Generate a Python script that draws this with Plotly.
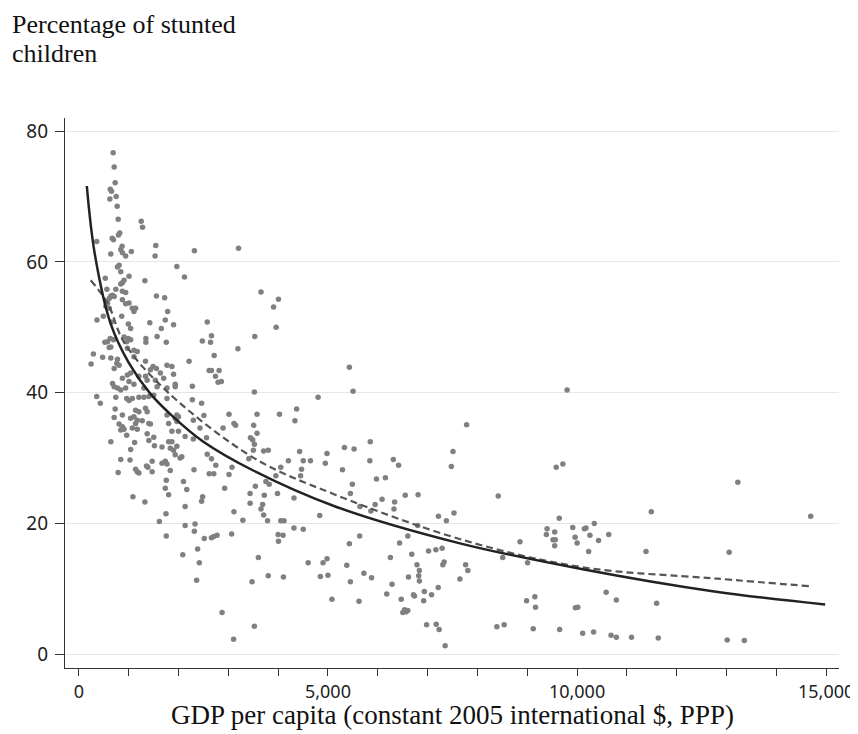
import plotly.graph_objects as go

# Scatter data: GDP per capita (constant 2005 intl $, PPP) and % stunted children
gdp = [689, 709, 729, 630, 656, 749, 622, 769, 789, 1252, 1278, 821, 795, 670, 695, 358, 1544, 868, 841,
       642, 1053, 874,
       940, 1530, 808, 775, 841, 1007, 1325, 530, 907, 874, 841, 563, 742, 874, 940, 642, 676, 609, 709,
       1557, 1722, 576, 543, 609, 874, 940, 1007, 1073, 1139, 1106, 1782, 491, 364, 861, 662, 1424, 1735,
       993, 1040, 1655, 629, 695, 576, 907, 993, 960, 1040, 1345, 1345, 1570, 1755, 523, 609, 642,
       974, 1106, 1172, 292, 477, 642, 775, 245, 762, 808, 709, 1106, 1338, 1490, 1557, 1437, 1769,
       974, 1040, 874, 1007, 1106, 676, 709, 775, 1205, 1338, 1371, 1536, 1636, 1702, 1570, 1769, 841, 940, 1305,
       358, 431, 742, 960, 1007, 1073, 1205, 1305, 1405, 1504, 1769, 729, 1139, 1205, 1338, 1371,
       709, 874, 1040, 1106, 1172, 1272, 1139, 808, 874, 841, 907, 1405, 1437, 1073, 1172, 1769, 1802,
       960, 1371, 1504, 1405, 1517, 1669, 1802, 1835, 642, 1119, 1040, 841, 1027, 1471, 1669, 1735, 1769, 1835,
       1139, 1205, 1172, 1358, 1385, 1471, 789, 1755, 1735, 1802, 1086, 1325, 1749, 1616, 1755,
       2319, 3205, 1967, 2120, 3656, 4007, 3908, 3960, 1901, 2577, 2662, 2478, 2643, 3531, 3193, 2716, 2212,
       1868, 1901, 2616, 2662, 2815, 2742, 2795, 2861, 1934, 1934, 2278,
       3523, 2278, 2464, 4802, 1967, 1967, 1934, 2000, 2510, 2298, 3014, 3576, 4027, 4371, 4337,
       1868, 2000, 2133, 2298, 2431, 2563, 2895, 3113, 3146, 3510, 3576, 3444, 3490, 3523,
       1868, 1901, 1967, 1934, 2033, 2066, 3503, 3709, 3801, 3411, 2577, 2662, 2749,
       4431, 4206, 4504, 4649, 4981, 4947, 4053, 4470, 4451, 3074, 3014, 2311, 2616, 2709,
       3954, 3755, 3821, 2100, 2166, 3543, 2927, 3437, 3722, 3987, 4318, 2484, 2464,
       3437, 3689, 3656, 3709, 3788, 2133, 3113, 3292, 4053, 4119, 4835, 4318, 4504,
       2133, 2332, 2318, 2517, 2662, 2709, 2775, 3067, 4000, 4099, 4007,
       2086, 2384, 2418, 2364, 3603, 4603, 4901, 4981, 3801, 4106, 3477, 4848, 5000, 5080, 2875, 3523, 3106,
       5430, 5504, 9801,
       7783, 5331, 5524, 5849, 5291, 5841, 6312, 6418, 7510, 7477, 5974, 6153, 5490, 5450,
       6086, 5947, 6338, 6551, 6809, 6325, 5643, 5861, 8418, 7218, 7377, 7530,
       6801, 6603, 6438, 6682, 5637, 5430, 5378, 5722, 5875, 5450, 5623, 6253, 6286, 6180,
       7020, 7166, 7292, 7332, 7306, 6787, 6835, 6822, 6835, 6616,
       6471, 6716, 6736, 6934, 6921, 7080, 7213, 7763, 7808, 7649,
       6503, 6537, 6570, 6603, 6980, 7173, 7232, 7352, 8390, 8537, 8855, 8508,
       8987, 9153, 9166, 9120, 9582, 9715, 9643, 9398, 9384, 9551, 9518, 9563, 9551,
       9914, 9961, 10001, 9967, 10014, 9650, 9007,
       13227, 11490, 14690, 10147, 10180, 10346, 10259, 10432, 10636, 10232, 11384, 13053,
       10584, 10789, 11597, 10113, 10332, 10683, 10789, 11093, 11630, 13014, 13358]

stunting = [76.7, 74.5, 72.1, 71.1, 70.8, 70.0, 69.6, 68.5, 66.5, 66.2, 65.3, 64.4, 64.1, 63.6, 63.4, 63.1, 62.5, 62.4, 61.9,
            61.2, 61.6, 61.4,
            60.9, 60.9, 59.5, 59.2, 58.5, 57.8, 57.1, 57.5, 57.2, 56.8, 56.6, 55.8, 55.8, 55.5, 55.3, 54.8, 54.9, 54.4, 54.7,
            54.8, 54.5, 53.7, 53.2, 52.9, 54.2, 53.6, 53.7, 52.9, 52.9, 52.4, 52.4, 51.7, 51.1, 51.7, 50.8, 50.7, 51.1,
            50.5, 49.8, 49.8, 48.3, 48.1, 47.8, 48.5, 48.3, 47.8, 48.1, 48.3, 47.7, 48.6, 47.7, 47.7, 46.9, 47.0,
            46.8, 46.5, 46.3, 45.9, 45.4, 45.3, 45.1, 44.4, 44.5, 44.2, 43.7, 45.5, 44.8, 44.0, 43.7, 43.5, 44.2,
            42.7, 43.0, 42.2, 41.7, 41.3, 41.4, 40.9, 40.7, 42.5, 42.5, 41.9, 41.9, 43.0, 42.2, 40.9, 40.7, 40.4, 40.7, 40.7,
            39.4, 38.4, 39.3, 39.1, 38.8, 39.1, 39.3, 39.3, 39.4, 39.6, 39.1, 37.5, 37.3, 37.1, 37.6, 37.1,
            36.2, 36.6, 36.1, 36.3, 35.8, 35.7, 35.3, 35.2, 34.8, 34.3, 34.4, 35.3, 35.2, 34.6, 34.4, 36.6, 35.3,
            33.5, 33.7, 33.2, 32.7, 31.9, 31.7, 32.5, 31.5, 32.5, 32.4, 31.3, 29.8, 29.7, 29.5, 29.2, 29.5, 29.1, 28.1,
            28.3, 27.7, 27.9, 28.8, 28.6, 27.9, 27.8, 26.6, 25.4, 24.4, 24.1, 23.3, 21.5, 20.3, 18.1,
            61.7, 62.1, 59.3, 57.7, 55.4, 54.3, 53.1, 50.0, 50.4, 50.8, 48.7, 47.9, 47.7, 48.6, 46.7, 45.7, 44.8,
            44.0, 42.8, 43.4, 43.4, 43.4, 42.5, 41.6, 41.7, 41.3, 40.9, 41.0,
            40.1, 38.9, 38.4, 39.3, 36.6, 35.6, 36.1, 36.3, 36.5, 35.8, 36.7, 36.7, 36.7, 37.5, 35.7,
            34.1, 34.1, 33.3, 32.9, 34.6, 33.1, 34.6, 35.3, 35.0, 35.0, 33.8, 33.1, 32.8, 32.1,
            32.5, 31.2, 31.8, 30.5, 30.0, 30.2, 31.2, 31.1, 31.2, 29.9, 30.6, 29.9, 28.9,
            31.0, 29.6, 29.6, 29.6, 30.7, 29.2, 28.6, 28.3, 27.3, 28.6, 27.5, 28.2, 27.6, 27.6,
            27.3, 26.4, 26.0, 26.4, 25.2, 25.7, 25.4, 24.6, 24.3, 24.6, 23.9, 24.1, 23.4,
            23.1, 22.9, 22.2, 21.3, 20.4, 22.6, 21.8, 20.5, 20.4, 20.4, 21.2, 19.3, 19.1,
            19.7, 19.9, 18.8, 17.7, 17.8, 18.0, 18.2, 18.4, 18.3, 18.2, 17.3,
            15.2, 16.1, 14.0, 11.3, 14.8, 14.0, 14.0, 14.6, 12.0, 11.8, 11.1, 11.9, 12.1, 8.4, 6.4, 4.3, 2.3,
            43.9, 40.2, 40.4,
            35.1, 31.6, 31.4, 32.5, 28.2, 29.6, 29.8, 28.9, 31.0, 28.7, 26.8, 27.0, 26.0, 24.6,
            23.7, 22.9, 23.3, 24.3, 24.4, 22.2, 22.6, 21.9, 24.2, 21.1, 20.4, 21.6,
            19.7, 18.1, 17.0, 15.3, 18.1, 16.9, 13.6, 12.4, 11.7, 11.1, 8.1, 14.8, 10.7, 9.2,
            15.8, 16.0, 16.2, 14.1, 13.7, 13.7, 12.8, 12.0, 11.2, 11.8,
            8.4, 9.1, 8.9, 9.6, 8.2, 9.1, 10.2, 13.7, 12.8, 11.5,
            6.4, 6.8, 6.5, 6.7, 4.5, 4.6, 3.8, 1.3, 4.2, 4.5, 17.2, 14.8,
            8.2, 8.8, 7.2, 3.9, 28.6, 29.1, 20.8, 19.2, 18.3, 18.7, 17.5, 17.5, 16.6,
            19.4, 17.9, 17.0, 7.1, 7.2, 3.8, 14.0,
            26.3, 21.8, 21.1, 19.2, 19.3, 20.0, 18.2, 17.4, 18.3, 15.7, 15.7, 15.6,
            9.5, 8.3, 7.8, 3.2, 3.4, 2.9, 2.6, 2.6, 2.5, 2.2, 2.1]

# Fitted curve (solid)
fit_x = [160, 318, 636, 1000, 1430, 1868, 2500, 3500, 5146, 7630, 10113, 12756, 14980]
fit_y = [71.6, 61.3, 50.6, 44.6, 39.9, 36.5, 32.5, 28.1, 22.6, 17.0, 13.0, 9.6, 7.6]

# Smoothed curve (dashed)
smooth_x = [238, 576, 914, 1768, 3517, 5146, 7790, 10113, 12756, 14683]
smooth_y = [57.2, 53.7, 47.6, 40.2, 30.0, 24.4, 17.3, 13.3, 11.6, 10.4]

y_ticks = [0, 20, 40, 60, 80]
x_ticks = [0, 5000, 10000, 15000]
x_tick_labels = ["0", "5,000", "10,000", "15,000"]
y_title_lines = ["Percentage of stunted", "children"]
x_title = "GDP per capita (constant 2005 international $, PPP)"

serif = "Liberation Serif, Times New Roman, serif"
sans = "Noto Sans, DejaVu Sans, sans-serif"

L, R, T, B = 57, 19, 110, 74
plot_w = 858 - L - R
plot_h = 734 - T - B
plot_bottom = 734 - B

fig = go.Figure()
fig.add_trace(go.Scatter(x=gdp, y=stunting, mode="markers",
                         marker=dict(color="#808080", size=5.5, line=dict(width=0)),
                         showlegend=False))
fig.add_trace(go.Scatter(x=smooth_x, y=smooth_y, mode="lines",
                         line=dict(color="#555555", width=2.2, dash="7px,4px", shape="spline"),
                         showlegend=False))
fig.add_trace(go.Scatter(x=fit_x, y=fit_y, mode="lines",
                         line=dict(color="#222222", width=2.5, shape="spline"),
                         showlegend=False))

annots = []
for i, line in enumerate(y_title_lines):
    annots.append(dict(text=line, xref="paper", yref="paper",
                       x=(1 - L) / plot_w, y=(plot_bottom - 17 - 28 * i) / plot_h,
                       xanchor="left", yanchor="middle",
                       align="left", showarrow=False,
                       font=dict(family=serif, size=26, color="#111111")))
annots.append(dict(text=x_title, xref="paper", yref="paper",
                   x=(448 - L) / plot_w, y=(plot_bottom - 707) / plot_h,
                   xanchor="center", yanchor="middle", showarrow=False,
                   font=dict(family=serif, size=27, color="#111111")))

fig.update_layout(
    width=858, height=734,
    paper_bgcolor="white", plot_bgcolor="white",
    margin=dict(l=L, r=R, t=T, b=B),
    font=dict(family=sans, size=18, color="#222222"),
    annotations=annots,
)
fig.update_xaxes(range=[-278, 15258], tickvals=x_ticks, ticktext=x_tick_labels,
                 tickfont=dict(family=sans, size=18, color="#222222"),
                 showgrid=False, zeroline=False, showline=True, linecolor="#333333", linewidth=1.2,
                 ticks="outside", ticklen=7, tickcolor="#333333",
                 minor=dict(dtick=1000, ticks="outside", ticklen=7, tickcolor="#333333", showgrid=False, tick0=0))
fig.update_yaxes(range=[-2.1, 82], tickvals=y_ticks, showgrid=True, gridcolor="#e6e6e6", gridwidth=1,
                 tickfont=dict(family=sans, size=19, color="#222222"),
                 zeroline=False, showline=True, linecolor="#333333", linewidth=1.2,
                 ticks="outside", ticklen=9, tickcolor="#333333", ticklabelstandoff=3)

fig.write_html("out.html")
